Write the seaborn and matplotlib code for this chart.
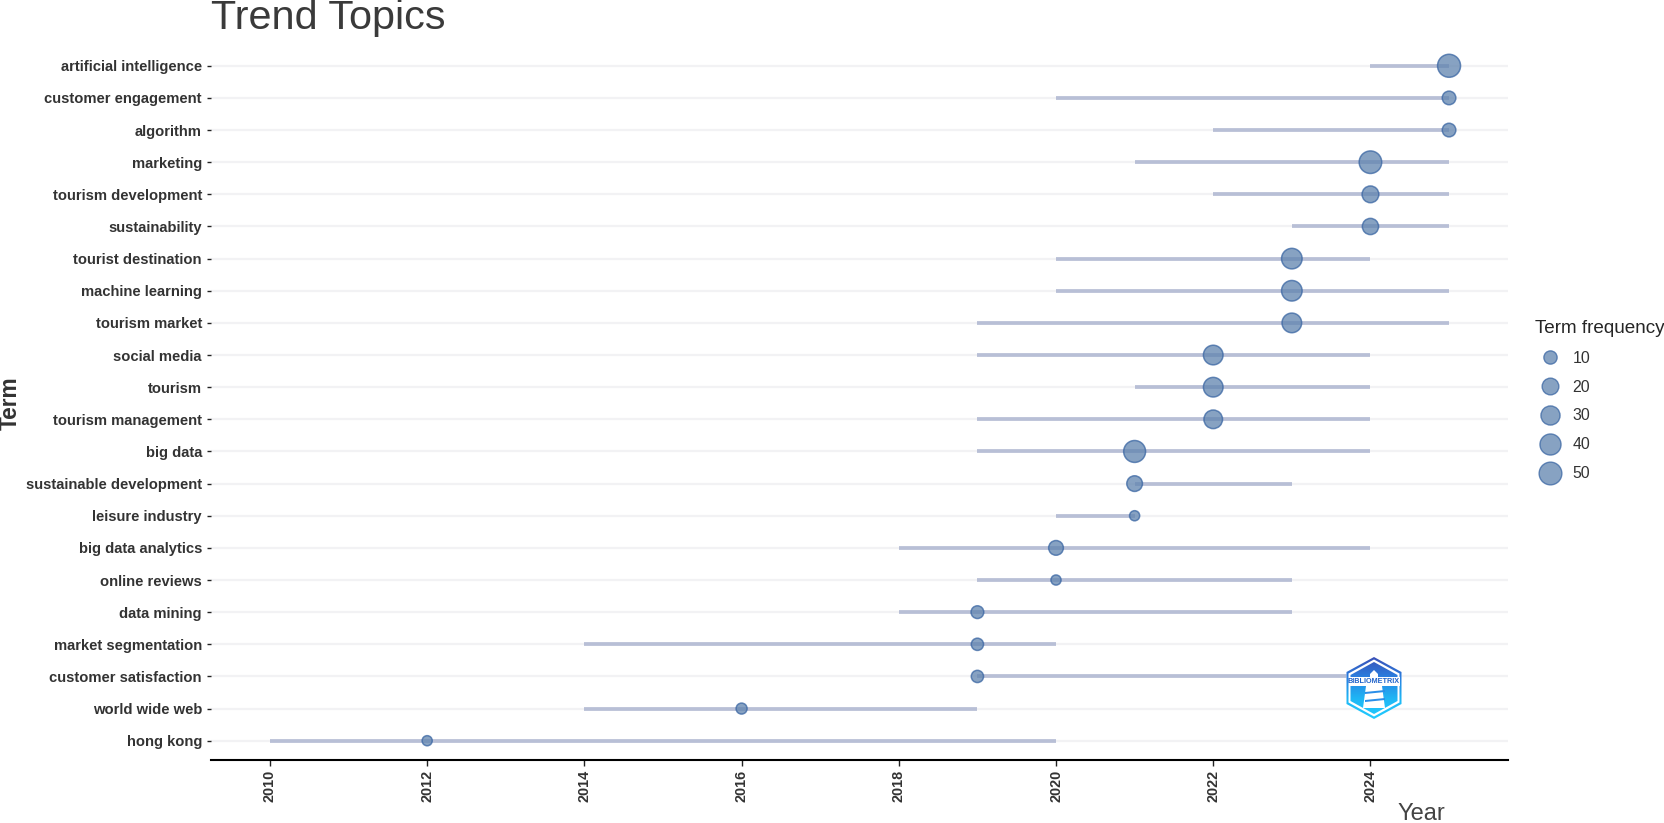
import numpy as np
import pandas as pd
import seaborn as sns
import matplotlib.pyplot as plt
from matplotlib.lines import Line2D
from matplotlib.patches import Polygon
from matplotlib.colors import LinearSegmentedColormap

terms = ['artificial intelligence', 'customer engagement', 'algorithm', 'marketing',
         'tourism development', 'sustainability', 'tourist destination', 'machine learning',
         'tourism market', 'social media', 'tourism', 'tourism management', 'big data',
         'sustainable development', 'leisure industry', 'big data analytics', 'online reviews',
         'data mining', 'market segmentation', 'customer satisfaction', 'world wide web', 'hong kong']
year_q1 = [2024, 2020, 2022, 2021, 2022, 2023, 2020, 2020, 2019, 2019, 2021,
           2019, 2019, 2021, 2020, 2018, 2019, 2018, 2014, 2019, 2014, 2010]
year_med = [2025, 2025, 2025, 2024, 2024, 2024, 2023, 2023, 2023, 2022, 2022,
            2022, 2021, 2021, 2021, 2020, 2020, 2019, 2019, 2019, 2016, 2012]
year_q3 = [2025, 2025, 2025, 2025, 2025, 2025, 2024, 2025, 2025, 2024, 2024,
           2024, 2024, 2023, 2021, 2024, 2023, 2023, 2020, 2024, 2019, 2020]
freq = [55, 12, 12, 52, 22, 20, 40, 40, 35, 35, 35,
        30, 48, 18, 6, 15, 6, 10, 9, 9, 7, 6]
legend_freq = [10, 20, 30, 40, 50]

df = pd.DataFrame({'term': terms, 'q1': year_q1, 'med': year_med, 'q3': year_q3, 'freq': freq})

W, H = 1665, 823


def diam(f):
    # ggplot style size scale, diameter in px
    return 8 + 15 * np.sqrt((f - 5) / 50)


sns.set_theme(style='white')
plt.rcParams['font.family'] = ['Liberation Sans', 'DejaVu Sans']

fig = plt.figure(figsize=(W / 100, H / 100), dpi=100)
ax = fig.add_axes([211 / W, 1 - 760 / H, (1508 - 211) / W, (760 - 46.5) / H])

point_sizes = {f: (diam(f) * 0.72) ** 2 for f in df['freq'].unique()}
sns.scatterplot(data=df, x='med', y='term', size='freq', sizes=point_sizes, color='#5f83ae',
                alpha=0.75, edgecolor='#3a66a3', linewidth=1.1, legend=False, zorder=4, ax=ax)

ax.hlines(df['term'], df['q1'], df['q3'], color='#b8bfd6', lw=2.7, zorder=3)
ax.set_xlim(2009.25, 2025.75)
ax.set_ylim(len(terms) - 0.4, -0.6)

ax.grid(axis='y', color='#f2f2f4', lw=1.6, zorder=0)
ax.grid(axis='x', visible=False)
ax.set_axisbelow(True)
for s in ['top', 'right', 'left']:
    ax.spines[s].set_visible(False)
ax.spines['bottom'].set_color('black')
ax.spines['bottom'].set_linewidth(1.5)

ax.set_xticks(range(2010, 2026, 2))
ax.tick_params(axis='x', bottom=True, length=4, width=1, color='#222222', pad=3)
ax.tick_params(axis='y', left=True, length=3, width=1, color='#222222', pad=3.5)
for t in ax.get_xticklabels():
    t.set(rotation=90, fontsize=10.4, fontweight='bold', color='#333333')
for t in ax.get_yticklabels():
    t.set(fontsize=10.6, fontweight='bold', color='#333333')

ax.set_xlabel('')
ax.set_ylabel('')
fig.text(211 / W, 1 - 29 / H, 'Trend Topics', fontsize=29.8, color='#3a3a3a', va='baseline')
fig.text(10 / W, 1 - 403 / H, 'Term', fontsize=16.4, fontweight='bold', color='#333333',
         rotation=90, ha='center', va='center')
fig.text(1421 / W, 1 - 820.5 / H, 'Year', fontsize=17, color='#444444', ha='center', va='baseline')

handles = [Line2D([], [], ls='', marker='o', markersize=(diam(f) + 0.5) * 0.72, markerfacecolor='#5f83ae',
                  markeredgecolor='#3a66a3', markeredgewidth=1.0, alpha=0.75) for f in legend_freq]
leg = fig.legend(handles, [str(f) for f in legend_freq], title='Term frequency', frameon=False,
                 loc='upper left', bbox_to_anchor=(1522 / W, 1 - 307 / H), labelspacing=0.88,
                 handletextpad=0.4, handlelength=2, fontsize=11.4, title_fontsize=13.6,
                 borderpad=0.3, alignment='left')
for t in leg.get_texts():
    t.set_color('#333333')

# bibliometrix logo, pixel coordinates
lg = fig.add_axes([0, 0, 1, 1], zorder=10)
lg.set_xlim(0, W)
lg.set_ylim(H, 0)
lg.axis('off')
lg.patch.set_alpha(0)


def hexagon(cx, top, bot, hw, sh_top, sh_bot):
    return [(cx, top), (cx + hw, sh_top), (cx + hw, sh_bot), (cx, bot), (cx - hw, sh_bot), (cx - hw, sh_top)]


grad = LinearSegmentedColormap.from_list('lg', ['#3b4fb5', '#2a7fe0', '#1fb6f5', '#22ccff'])
extent = (1345, 1404, 720, 656)
gy = np.linspace(0, 1, 100).reshape(-1, 1)

outer = Polygon(hexagon(1374, 657, 719, 27.5, 672, 704), closed=True, fc='white', ec='none')
lg.add_patch(outer)
im = lg.imshow(gy, cmap=grad, extent=extent, aspect='auto', zorder=2)
ring = Polygon(hexagon(1374, 657, 719, 27.5, 672, 704), closed=True, fc='none', ec='none')
lg.add_patch(ring)
im.set_clip_path(ring)
lg.add_patch(Polygon(hexagon(1374, 659.5, 716.5, 25.5, 673.5, 702.5), closed=True, fc='white', ec='none', zorder=3))

im2 = lg.imshow(gy, cmap=grad, extent=extent, aspect='auto', zorder=4)
inner = Polygon(hexagon(1374, 662, 714, 23.5, 675, 701), closed=True, fc='none', ec='none')
lg.add_patch(inner)
im2.set_clip_path(inner)

# banner and lighthouse
lg.add_patch(Polygon([(1349, 677), (1400, 677), (1400, 686), (1349, 686)], fc='white', ec='none', zorder=5))
lg.text(1374, 681.5, 'BIBLIOMETRIX', fontsize=5.2, fontweight='bold', color='#1f62c9',
        ha='center', va='center', zorder=6)
lg.add_patch(Polygon([(1374, 670), (1378, 674), (1378, 677), (1370, 677), (1370, 674)], fc='white', ec='none', zorder=5))
lg.add_patch(Polygon([(1366, 686), (1382, 686), (1385, 708), (1363, 708)], fc='white', ec='none', zorder=5))
for yy in [692, 700]:
    lg.add_patch(Polygon([(1365, yy), (1385, yy - 2), (1385, yy), (1365, yy + 2)], fc='#2a8ee8', ec='none', zorder=6))

fig.savefig('out.png', dpi=100)
